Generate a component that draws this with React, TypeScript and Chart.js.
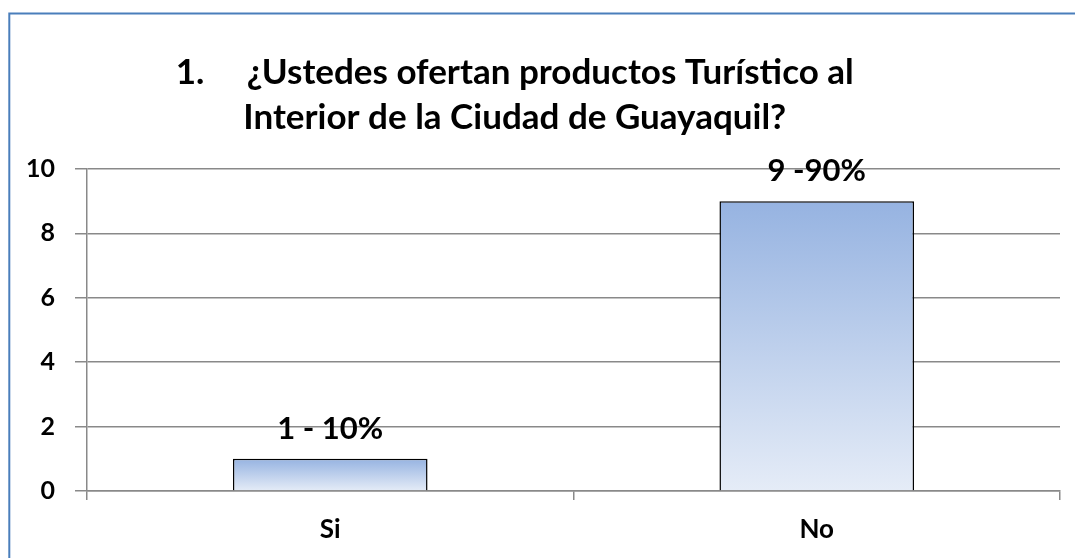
import React, { useEffect, useRef } from "react";
import { Chart, registerables } from "chart.js";

Chart.register(...registerables);

const categories: string[] = ["Si", "No"];
const values: number[] = [1, 9];
const valueLabels: string[] = ["1 - 10%", "9 -90%"];
const titleLines: string[] = [
  "1.     ¿Ustedes ofertan productos Turístico al\u00A0\u00A0\u00A0\u00A0\u00A0",
  "Interior de la Ciudad de Guayaquil?\u00A0\u00A0\u00A0\u00A0\u00A0",
];
const yMin = 0;
const yMax = 10;
const yStep = 2;

const FONT = "Lato, 'Open Sans', sans-serif";

const framePlugin = {
  id: "frame",
  beforeDraw(chart: any) {
    const ctx = chart.ctx;
    ctx.save();
    ctx.fillStyle = "#ffffff";
    ctx.fillRect(0, 0, chart.width, chart.height);
    ctx.strokeStyle = "#4A7EBB";
    ctx.lineWidth = 2;
    ctx.beginPath();
    ctx.moveTo(9.3, chart.height);
    ctx.lineTo(9.3, 13.5);
    ctx.lineTo(chart.width, 13.5);
    ctx.stroke();
    ctx.restore();
  },
};

const valueLabelPlugin = {
  id: "valueLabels",
  afterDatasetsDraw(chart: any) {
    const ctx = chart.ctx;
    const meta = chart.getDatasetMeta(0);
    ctx.save();
    ctx.font = `bold 31px ${FONT}`;
    ctx.fillStyle = "#000000";
    ctx.textAlign = "center";
    ctx.textBaseline = "middle";
    meta.data.forEach((bar: any, i: number) => {
      ctx.fillText(valueLabels[i], bar.x, bar.y - 30);
    });
    ctx.restore();
  },
};

export default function App() {
  const canvasRef = useRef<HTMLCanvasElement | null>(null);

  useEffect(() => {
    if (!canvasRef.current) return;
    const chart = new Chart(canvasRef.current, {
      type: "bar",
      data: {
        labels: categories,
        datasets: [
          {
            data: values,
            backgroundColor: (c: any) => {
              const ch = c.chart;
              const ys = ch.scales && ch.scales.y;
              if (!ys || c.dataIndex === undefined) return "#AFC4E8";
              const top = ys.getPixelForValue(values[c.dataIndex]);
              const base = ys.getPixelForValue(0);
              if (!isFinite(top) || !isFinite(base) || top === base) return "#AFC4E8";
              const g = ch.ctx.createLinearGradient(0, top, 0, base);
              g.addColorStop(0, "#96B3E1");
              g.addColorStop(1, "#E5ECF7");
              return g;
            },
            borderColor: "#000000",
            borderWidth: 1.5,
            borderSkipped: "bottom",
            barPercentage: 0.4,
            categoryPercentage: 1,
          },
        ],
      },
      options: {
        responsive: false,
        animation: false,
        layout: { padding: { left: 12, right: 15, top: 0, bottom: 0 } },
        plugins: {
          legend: { display: false },
          tooltip: { enabled: false },
          title: {
            display: true,
            text: titleLines,
            color: "#000000",
            font: { family: FONT, size: 35, weight: "bold", lineHeight: 45 / 35 },
            padding: { top: 50.5, bottom: 28.5 },
          },
        },
        scales: {
          x: {
            afterFit: (s: any) => {
              s.height = 67;
            },
            grid: {
              offset: true,
              drawOnChartArea: false,
              drawTicks: true,
              tickLength: 9,
              color: "#898989",
              lineWidth: 1.5,
            },
            border: { display: true, color: "#898989", width: 1.5 },
            ticks: {
              color: "#000000",
              padding: 14,
              font: { family: FONT, size: 26, weight: "bold" },
            },
          },
          y: {
            min: yMin,
            max: yMax,
            afterFit: (s: any) => {
              s.width = 75;
            },
            grid: {
              drawOnChartArea: true,
              drawTicks: true,
              tickLength: 12,
              color: "#898989",
              lineWidth: 1.5,
            },
            border: { display: true, color: "#898989", width: 1.5 },
            ticks: {
              stepSize: yStep,
              color: "#000000",
              padding: 20,
              font: { family: FONT, size: 25, weight: "bold" },
            },
          },
        },
      },
      plugins: [framePlugin, valueLabelPlugin],
    } as any);
    return () => chart.destroy();
  }, []);

  return (
    <div style={{ position: "fixed", left: 0, top: 0, width: 1075, height: 558, background: "#fff" }}>
      <canvas ref={canvasRef} width={1075} height={558} />
    </div>
  );
}
